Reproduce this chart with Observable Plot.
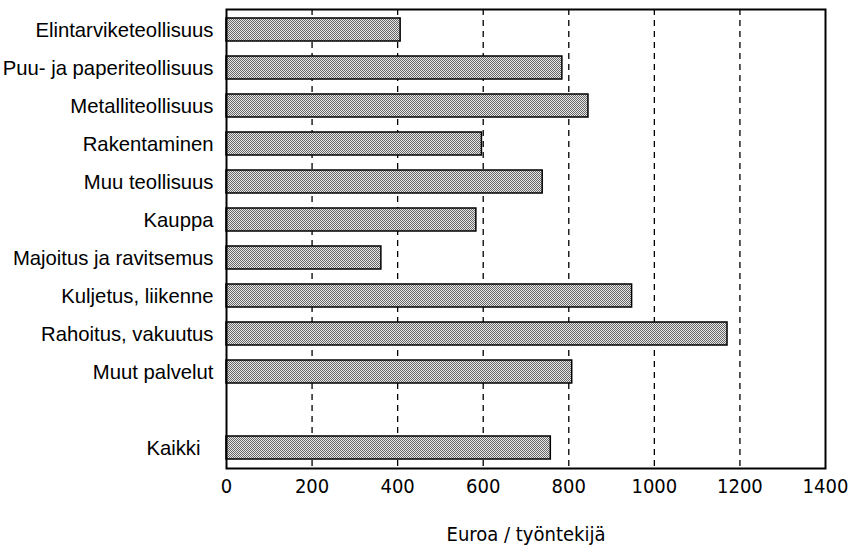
<!DOCTYPE html>
<html>
<head>
<meta charset="utf-8">
<script src="https://cdn.jsdelivr.net/npm/d3@7"></script>
<script src="https://cdn.jsdelivr.net/npm/@observablehq/plot@0.6"></script>
<style>
  html, body { margin: 0; padding: 0; background: white; }
</style>
</head>
<body>
<div id="chart"></div>
<script>
const categories = [
  "Elintarviketeollisuus",
  "Puu- ja paperiteollisuus",
  "Metalliteollisuus",
  "Rakentaminen",
  "Muu teollisuus",
  "Kauppa",
  "Majoitus ja ravitsemus",
  "Kuljetus, liikenne",
  "Rahoitus, vakuutus",
  "Muut palvelut",
  "Kaikki"
];
const values = [407, 785, 846, 597, 739, 584, 362, 948, 1171, 808, 758];
const xTicks = [0, 200, 400, 600, 800, 1000, 1200, 1400];
const gridTicks = [200, 400, 600, 800, 1000, 1200];
const xTitle = "Euroa / työntekijä";

const industries = categories.slice(0, 10);
const totalLabel = categories[10];
const yDomain = [...industries, "", totalLabel];
const data = categories.map((c, i) => ({category: c, value: values[i]}));

const narrow = "'Liberation Sans Narrow', 'DejaVu Sans Condensed', 'Liberation Sans', sans-serif";

const chart = Plot.plot({
  width: 850,
  height: 547,
  marginLeft: 226,
  marginRight: 25,
  marginTop: 9,
  marginBottom: 79,
  style: {fontFamily: "'Liberation Sans', Arial, sans-serif", fontSize: "20px", background: "white", color: "black"},
  x: {domain: [0, 1400]},
  y: {domain: yDomain, paddingInner: 0.39, paddingOuter: 0.195},
  marks: [
    Plot.ruleX(gridTicks, {stroke: "black", strokeWidth: 1.3, strokeDasharray: "6,5"}),
    Plot.barX(data, {x: "value", y: "category", fill: "url(#dither)", stroke: "black", strokeWidth: 1.5}),
    Plot.frame({stroke: "black", strokeWidth: 2}),
    Plot.axisX(xTicks, {tickSize: 0, tickPadding: 10, fontSize: 20, fontFamily: narrow,
      tickFormat: d => String(d),
      label: xTitle, labelAnchor: "center", labelArrow: "none", labelOffset: 72}),
    Plot.axisY(industries, {tickSize: 0, tickPadding: 13, fontSize: 20.3, label: null}),
    Plot.axisY([totalLabel], {tickSize: 0, tickPadding: 26, fontSize: 20.3, label: null})
  ]
});

const ns = "http://www.w3.org/2000/svg";
const defs = document.createElementNS(ns, "defs");
defs.innerHTML = '<pattern id="dither" width="2" height="2" patternUnits="userSpaceOnUse">' +
  '<rect width="2" height="2" fill="#e8e8e8"></rect>' +
  '<rect x="0" y="0" width="1" height="1" fill="#666"></rect>' +
  '<rect x="1" y="1" width="1" height="1" fill="#666"></rect></pattern>';
const svg = chart.tagName.toLowerCase() === "svg" ? chart : chart.querySelector("svg");
svg.insertBefore(defs, svg.firstChild);
document.getElementById("chart").appendChild(chart);
</script>
</body>
</html>
